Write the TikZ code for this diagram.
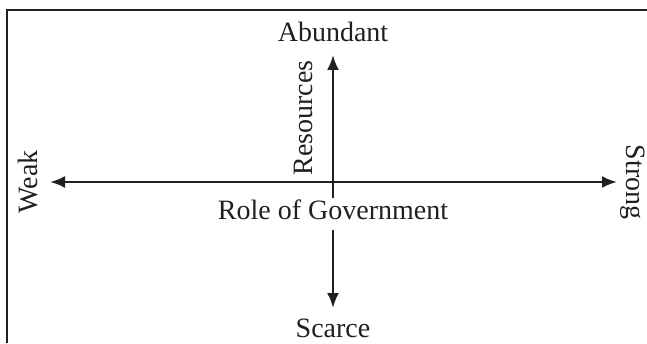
\documentclass[tikz,border=0pt]{standalone}
\usepackage{fontspec}
\usepackage{xcolor}
\setmainfont{Liberation Serif}
\usetikzlibrary{arrows.meta, positioning}
\definecolor{quadInk}{RGB}{35,31,32}

\begin{document}
\begin{tikzpicture}[x=1pt, y=1pt,
      axis/.style={line width=2.4pt, draw=quadInk},
      tip/.style={-{Latex[length=15pt,width=12pt]}},
      frame/.style={line width=2.4pt, draw=quadInk},
      tag/.style={font=\fontsize{28}{32}\selectfont, text=quadInk, inner sep=0pt}
    ]
    \useasboundingbox (0,0) rectangle (647,343);
    \draw[frame] (7,0) -- (7,333) -- (647,333);

    \coordinate (origin) at (333,161);
    \coordinate (weakEnd) at (50,161);
    \coordinate (strongEnd) at (617,161);
    \coordinate (abundantEnd) at (333,288);
    \coordinate (scarceEnd) at (333,35);

    \node[tag, above=13pt of abundantEnd] (abundant) {Abundant};
    \node[tag, below=11pt of scarceEnd] (scarce) {Scarce};
    \node[tag, inner sep=2pt, text depth=8pt, below=16pt of origin] (government) {Role of Government};
    \node[tag, rotate=90, anchor=base] (resources) at (312,225) {Resources};
    \node[tag, rotate=90, anchor=base] (weak) at (37,161) {Weak};
    \node[tag, rotate=-90, anchor=base] (strong) at (626,161) {Strong};

    \draw[axis, tip] (origin) -- (weakEnd);
    \draw[axis, tip] (origin) -- (strongEnd);
    \draw[axis, tip] (government.north) -- (abundantEnd);
    \draw[axis, tip] (government.south) -- (scarceEnd);
  \end{tikzpicture}
\end{document}
